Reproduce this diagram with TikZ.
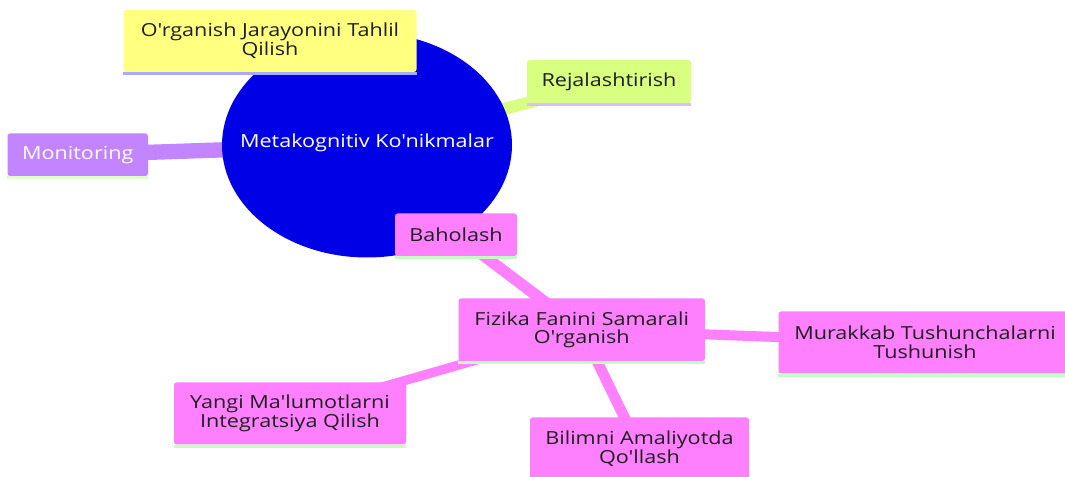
\documentclass[tikz,border=0pt]{standalone}
\usepackage{fontspec}
\setmainfont{Open Sans}[FakeStretch=1.2,Ligatures=TeXOff]
\usetikzlibrary{shapes.geometric}
\pgfdeclarelayer{background}
\pgfsetlayers{background,main}
\definecolor{hubblue}{RGB}{0,0,230}
\definecolor{yel}{RGB}{255,255,128}
\definecolor{yelline}{RGB}{170,170,255}
\definecolor{lime}{RGB}{217,255,128}
\definecolor{limeline}{RGB}{212,192,255}
\definecolor{violet}{RGB}{194,132,255}
\definecolor{violetline}{RGB}{224,255,200}
\definecolor{pink}{RGB}{255,128,255}
\definecolor{pinkline}{RGB}{192,255,192}
\definecolor{txt}{RGB}{30,30,30}
\newcommand\stripe[2]{\draw[#2,line width=2.4pt] ([yshift=-1.2pt]#1.south west) -- ([yshift=-1.2pt]#1.south east);}
\begin{document}
\begin{tikzpicture}[x=0.75pt,y=-0.75pt,
  box/.style={rounded corners=2pt, inner sep=0pt, align=center, text=txt,
    font=\fontsize{13.5}{14.1}\selectfont},
  link/.style={line cap=butt}]
\useasboundingbox (0,0) rectangle (1065,477);
\node[ellipse, fill=hubblue, inner sep=0pt, minimum width={290*0.75pt}, minimum height={225*0.75pt}] (hub) at (367,145) {};
\node[text=white, inner sep=0pt, font=\fontsize{13.5}{14.1}\selectfont] (hubtext) at (367,143) {Metakognitiv Ko'nikmalar};
\node[box, fill=yel, minimum width={293*0.75pt}, minimum height={62*0.75pt}] (tahlil) at (270,41) {O'rganish Jarayonini Tahlil\\Qilish};
\node[box, fill=lime, minimum width={164*0.75pt}, minimum height={43*0.75pt}] (rej) at (609,81.5) {Rejalashtirish};
\node[box, fill=violet, text=white, minimum width={140.5*0.75pt}, minimum height={42.5*0.75pt}] (mon) at (77.75,154.75) {Monitoring};
\node[box, fill=pink, minimum width={122*0.75pt}, minimum height={42.5*0.75pt}] (bah) at (456,234.75) {Baholash};
\node[box, fill=pink, minimum width={246.5*0.75pt}, minimum height={62.5*0.75pt}] (fiz) at (581.75,329.75) {Fizika Fanini Samarali\\O'rganish};
\node[box, fill=pink, minimum width={293*0.75pt}, minimum height={62*0.75pt}] (mur) at (925,342.5) {Murakkab Tushunchalarni\\Tushunish};
\node[box, fill=pink, minimum width={232*0.75pt}, minimum height={62*0.75pt}] (yan) at (290,413.5) {Yangi Ma'lumotlarni\\Integratsiya Qilish};
\node[box, fill=pink, minimum width={219*0.75pt}, minimum height={62*0.75pt}] (bil) at (639.5,448.5) {Bilimni Amaliyotda\\Qo'llash};
\stripe{tahlil}{yelline}
\stripe{rej}{limeline}
\stripe{mon}{violetline}
\stripe{bah}{pinkline}
\stripe{fiz}{pinkline}
\stripe{mur}{pinkline}
\stripe{yan}{pinkline}
\begin{pgfonlayer}{background}
\draw[link, yel, line width=9pt] (hub.center) -- (tahlil.center);
\draw[link, lime, line width=9pt] (hub.center) -- (rej.center);
\draw[link, violet, line width=11.5pt] (hub.center) -- (mon.center);
\draw[link, pink, line width=9pt] (hub.center) -- (bah.center);
\draw[link, pink, line width=8.5pt] (bah.center) -- (fiz.center);
\draw[link, pink, line width=7.5pt] (fiz.center) -- (mur.center);
\draw[link, pink, line width=7pt] (fiz.center) -- (yan.center);
\draw[link, pink, line width=8pt] (fiz.center) -- (bil.center);
\end{pgfonlayer}
\end{tikzpicture}
\end{document}
